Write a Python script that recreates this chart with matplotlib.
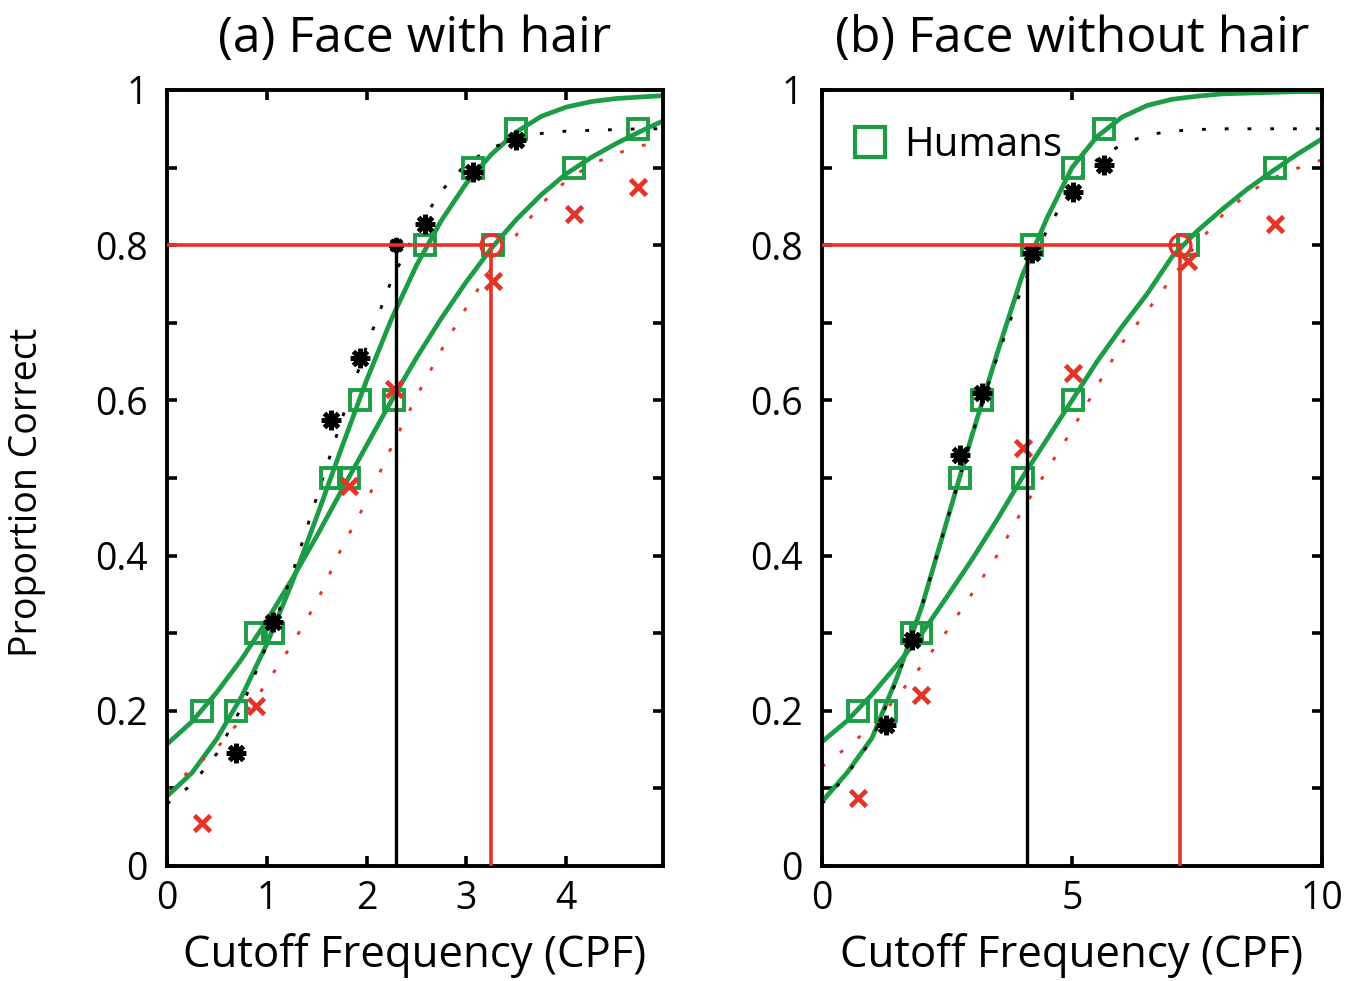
import numpy as np
import matplotlib.pyplot as plt
from matplotlib.lines import Line2D

plt.rcParams['font.family'] = ['Open Sans', 'DejaVu Sans']

GREEN = '#1c9c45'
RED = '#e63329'
ASTER = (8, 2, 0)   # 8-spoke asterisk

# ---- (a) face with hair ----
# stimulus cutoffs and human proportion correct
hum_x1_a = [0.69, 1.06, 1.64, 1.93, 2.59, 3.07, 3.50]
hum_y1_a = [0.2, 0.3, 0.5, 0.6, 0.8, 0.9, 0.95]
hum_x2_a = [0.35, 0.89, 1.82, 2.27, 3.27, 4.08, 4.72]
hum_y2_a = [0.2, 0.3, 0.5, 0.6, 0.8, 0.9, 0.95]
# model responses at the same cutoffs
mod_black_a = [0.146, 0.315, 0.575, 0.655, 0.827, 0.894, 0.935]
mod_red_a = [0.055, 0.206, 0.49, 0.615, 0.754, 0.84, 0.875]

# fitted psychometric curves, sampled every 0.25 CPF
fit_x_a = np.arange(0, 5.01, 0.25)
fit_g1_a = [0.09, 0.12, 0.164, 0.219, 0.286, 0.364, 0.45, 0.539, 0.626, 0.705, 0.774,
            0.832, 0.88, 0.917, 0.946, 0.966, 0.978, 0.985, 0.989, 0.991, 0.993]
fit_g2_a = [0.157, 0.186, 0.224, 0.267, 0.316, 0.369, 0.425, 0.484, 0.542, 0.600, 0.655,
            0.706, 0.753, 0.796, 0.833, 0.865, 0.892, 0.913, 0.931, 0.947, 0.962]
fit_k_a = [0.08, 0.105, 0.145, 0.205, 0.285, 0.375, 0.475, 0.575, 0.67, 0.755, 0.82,
           0.87, 0.905, 0.925, 0.938, 0.944, 0.947, 0.948, 0.949, 0.95, 0.95]
fit_r_a = [0.098, 0.125, 0.152, 0.19, 0.236, 0.285, 0.34, 0.41, 0.47, 0.54, 0.605,
           0.665, 0.72, 0.77, 0.813, 0.853, 0.883, 0.904, 0.918, 0.928, 0.935]
thr_black_a = 2.29
thr_red_a = 3.25

# ---- (b) face without hair ----
hum_x1_b = [1.28, 1.80, 2.76, 3.20, 4.20, 5.01, 5.63]
hum_y1_b = [0.2, 0.3, 0.5, 0.6, 0.8, 0.9, 0.95]
hum_x2_b = [0.72, 1.98, 4.02, 5.01, 7.31, 9.05]
hum_y2_b = [0.2, 0.3, 0.5, 0.6, 0.8, 0.9]
mod_black_b = [0.182, 0.291, 0.53, 0.61, 0.79, 0.869, 0.903]
mod_red_b = [0.088, 0.22, 0.539, 0.635, 0.78, 0.827]

fit_x_b = np.arange(0, 10.01, 0.5)
fit_g1_b = [0.083, 0.12, 0.165, 0.243, 0.335, 0.445, 0.555, 0.66, 0.76, 0.835, 0.9,
            0.94, 0.965, 0.98, 0.988, 0.992, 0.995, 0.996, 0.997, 0.998, 0.998]
fit_g2_b = [0.16, 0.187, 0.221, 0.259, 0.30, 0.347, 0.395, 0.446, 0.50, 0.55, 0.60,
            0.65, 0.695, 0.737, 0.785, 0.818, 0.846, 0.872, 0.895, 0.917, 0.937]
fit_k_b = [0.08, 0.118, 0.163, 0.24, 0.335, 0.445, 0.555, 0.655, 0.745, 0.82, 0.875,
           0.91, 0.93, 0.942, 0.947, 0.949, 0.95, 0.95, 0.95, 0.95, 0.95]
fit_r_b = [0.128, 0.153, 0.18, 0.218, 0.259, 0.303, 0.351, 0.40, 0.458, 0.51, 0.562,
           0.618, 0.674, 0.715, 0.758, 0.802, 0.838, 0.866, 0.886, 0.899, 0.91]
thr_black_b = 4.10
thr_red_b = 7.15

level = 0.8

fig = plt.figure(figsize=(13.51, 9.81), dpi=100)
W, H = 1351, 981
ax1 = fig.add_axes([167 / W, 1 - 866 / H, 496 / W, 776 / H])
ax2 = fig.add_axes([822 / W, 1 - 866 / H, 500 / W, 776 / H])

dots = (0, (1.3, 6.5))


def draw(ax, fx, g1, g2, k, r, hx1, hy1, hx2, hy2, mb, mr, tb, tr):
    ax.plot(fx, g1, color=GREEN, lw=3.4, zorder=2)
    ax.plot(fx, g2, color=GREEN, lw=3.4, zorder=2)
    ax.plot(fx, r, color=RED, lw=2.1, ls=dots, zorder=2)
    ax.plot(fx, k, color='black', lw=2.1, ls=dots, zorder=2)
    ax.plot(hx1, hy1, 's', ms=14, mfc='none', mec=GREEN, mew=2.8, zorder=3)
    ax.plot(hx2, hy2, 's', ms=14, mfc='none', mec=GREEN, mew=2.8, zorder=3)
    ax.plot(hx1, mb, ls='none', marker=ASTER, ms=14, mec='black', mew=3.5, zorder=4)
    ax.plot(hx2, mr, ls='none', marker='x', ms=11, mec=RED, mew=3.4, zorder=4)
    # thresholds at 80% correct
    ax.plot([tb, tb], [0, level], color='black', lw=2.4, zorder=5)
    ax.plot([tr, tr], [0, level], color=RED, lw=2.6, zorder=5)
    ax.plot([0, tr], [level, level], color=RED, lw=2.6, zorder=6)
    ax.plot([tr], [level], 'o', ms=15, mfc='none', mec=RED, mew=2.4, zorder=6)

    ax.set_ylim(0, 1)
    ax.set_yticks(np.arange(0, 1.01, 0.1))
    ax.set_yticklabels(['0', '', '0.2', '', '0.4', '', '0.6', '', '0.8', '', '1'])
    ax.tick_params(direction='in', length=7, width=2.6, labelsize=27,
                   top=True, right=True, pad=10)
    ax.tick_params(axis='y', pad=14)
    for s in ax.spines.values():
        s.set_linewidth(2.8)
    ax.set_xlabel('Cutoff Frequency (CPF)', fontsize=31.5, labelpad=11)


draw(ax1, fit_x_a, fit_g1_a, fit_g2_a, fit_k_a, fit_r_a,
     hum_x1_a, hum_y1_a, hum_x2_a, hum_y2_a, mod_black_a, mod_red_a,
     thr_black_a, thr_red_a)
ax1.plot([thr_black_a], [level], ls='none', marker=ASTER, ms=11, mec='black', mew=3, zorder=5)
ax1.set_xlim(0, 4.97)
ax1.set_xticks([0, 1, 2, 3, 4])
ax1.set_title('(a) Face with hair', fontsize=36, pad=27)
ax1.set_ylabel('Proportion Correct', fontsize=27)
ax1.yaxis.set_label_coords(-0.243, 0.481)

draw(ax2, fit_x_b, fit_g1_b, fit_g2_b, fit_k_b, fit_r_b,
     hum_x1_b, hum_y1_b, hum_x2_b, hum_y2_b, mod_black_b, mod_red_b,
     thr_black_b, thr_red_b)
ax2.set_xlim(0, 10)
ax2.set_xticks([0, 5, 10])
ax2.set_title('(b) Face without hair', fontsize=36, pad=27)

h = Line2D([], [], ls='none', marker='s', ms=21, mfc='none', mec=GREEN, mew=3)
ax2.legend([h], ['Humans'], loc='upper left', bbox_to_anchor=(0.0, 0.99),
           frameon=False, fontsize=29, handlelength=1.0, handletextpad=0.35,
           borderaxespad=0.3)

fig.savefig('out.png', dpi=100)
